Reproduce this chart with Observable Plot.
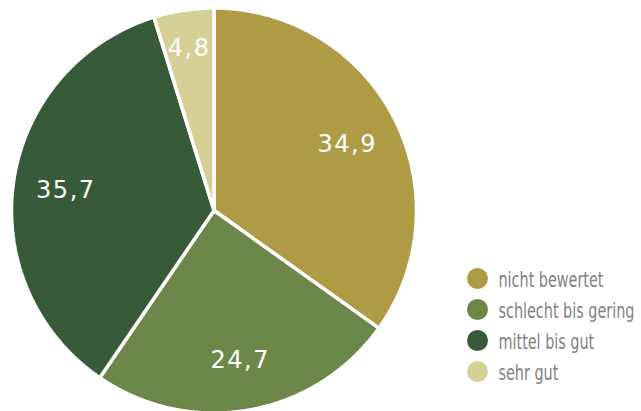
<!DOCTYPE html>
<html>
<head>
<meta charset="utf-8">
<script src="https://cdn.jsdelivr.net/npm/d3@7"></script>
<script src="https://cdn.jsdelivr.net/npm/@observablehq/plot@0.6"></script>
<style>
  html, body { margin: 0; padding: 0; background: #fff; }
  #wrap { position: relative; width: 641px; height: 411px; overflow: hidden; }
  #legend { position: absolute; left: 460px; top: 262px; }
</style>
</head>
<body>
<div id="wrap"><div id="pie"></div><div id="legend"></div></div>
<script>
const categories = ["nicht bewertet", "schlecht bis gering", "mittel bis gut", "sehr gut"];
const values = [34.9, 24.7, 35.7, 4.8];
const labels = ["34,9", "24,7", "35,7", "4,8"];
const colors = ["#AF9B46", "#6C8749", "#375B38", "#D4D096"];

const data = categories.map((c, i) => ({category: c, value: values[i], label: labels[i]}));
const arcs = d3.pie().value(d => d.value).sort(null).startAngle(0).endAngle(2 * Math.PI)(data);

// build slice outlines (unit circle, y up, clockwise from top)
const pts = [];
for (const a of arcs) {
  const n = Math.max(2, Math.ceil((a.endAngle - a.startAngle) / 0.005));
  pts.push({category: a.data.category, x: 0, y: 0});
  for (let k = 0; k <= n; k++) {
    const t = a.startAngle + (a.endAngle - a.startAngle) * k / n;
    pts.push({category: a.data.category, x: Math.sin(t), y: Math.cos(t)});
  }
  pts.push({category: a.data.category, x: 0, y: 0});
}
const labelPts = arcs.map(a => {
  const m = (a.startAngle + a.endAngle) / 2;
  const r = a.data.value < 10 ? 0.82 : 0.74;
  return {label: a.data.label, x: r * Math.sin(m), y: r * Math.cos(m)};
});

const color = {domain: categories, range: colors};

const pie = Plot.plot({
  width: 641, height: 411,
  margin: 0,
  x: {domain: [-1, 1], range: [11, 416], axis: null},
  y: {domain: [-1, 1], range: [412.5, 7.5], axis: null},
  color,
  marks: [
    Plot.line(pts, {x: "x", y: "y", z: "category", fill: "category", stroke: "#fff", strokeWidth: 3.5, strokeLinejoin: "miter", curve: "linear"}),
    Plot.text(labelPts, {x: "x", y: "y", text: "label", fill: "#fff", fontSize: 24, fontFamily: "DejaVu Sans", dy: 2})
  ]
});
document.getElementById("pie").appendChild(pie);
pie.querySelectorAll("text").forEach(t => t.setAttribute("letter-spacing", "1.5"));

const legend = Plot.plot({
  width: 181, height: 124,
  margin: 0,
  x: {domain: [0, 1], range: [17, 175], axis: null},
  y: {type: "point", domain: categories, range: [15.5, 108.5], padding: 0, axis: null},
  color,
  marks: [
    Plot.dot(categories, {x: () => 0, y: d => d, r: 10.5, fill: d => d}),
    Plot.text(categories, {x: () => 0, y: d => d, text: d => d, dx: 21, dy: 2, textAnchor: "start", fill: "#808285", fontSize: 21, fontFamily: "DejaVu Sans Condensed, Liberation Sans Narrow, sans-serif"})
  ]
});
document.getElementById("legend").appendChild(legend);
// condense legend text horizontally to match the narrow typeface
const lt = [...legend.querySelectorAll("text")];
const f = 105 / lt[0].getComputedTextLength();
lt.forEach(t => {
  const prev = t.getAttribute("transform") || "";
  t.setAttribute("transform", `${prev} scale(${f.toFixed(4)},1)`);
});
</script>
</body>
</html>
